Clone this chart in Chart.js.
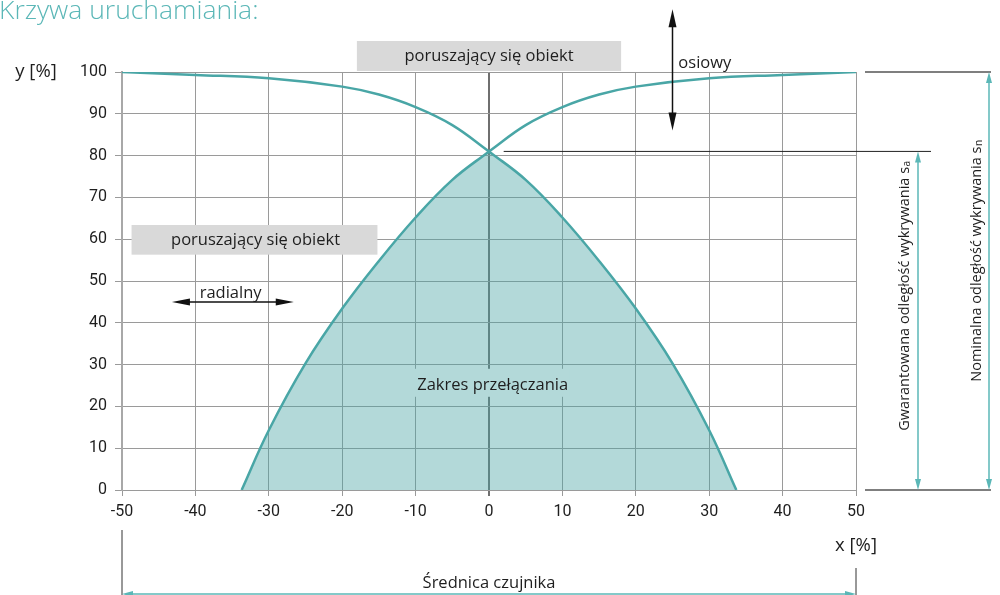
<!DOCTYPE html>
<html>
<head>
<meta charset="utf-8">
<script src="https://cdn.jsdelivr.net/npm/chart.js@4/dist/chart.umd.min.js"></script>
<style>
html, body { margin: 0; padding: 0; background: #fff; }
canvas { display: block; }
</style>
</head>
<body>
<canvas id="curveChart" width="1000" height="595"></canvas>
<script>
// Switching range (lower curve) and approach curves (upper), in % of sensing distance
const lowerLeftX  = [-33.7, -30, -25, -20, -15, -10, -5, 0];
const lowerLeftY  = [0, 14.3, 30.3, 43.4, 54.8, 65.2, 74.2, 81];
const lowerRightX = [0, 5, 10, 15, 20, 25, 30, 33.7];
const lowerRightY = [81, 74.2, 65.2, 54.8, 43.4, 30.3, 14.3, 0];
const upperLeftX  = [-50, -40, -30, -20, -15, -10, -5, 0];
const upperLeftY  = [100, 99.3, 98.5, 96.5, 94.6, 91.6, 87.3, 81];
const upperRightX = [0, 5, 10, 15, 20, 30, 40, 50];
const upperRightY = [81, 87.3, 91.6, 94.6, 96.5, 98.5, 99.3, 100];

const xTicks = [-50, -40, -30, -20, -10, 0, 10, 20, 30, 40, 50];
const yTicks = [0, 10, 20, 30, 40, 50, 60, 70, 80, 90, 100];

const TEAL = '#49a6a6';
const TEAL_LIGHT = '#5bb7b7';
const FILL = 'rgba(74,165,165,0.42)';
const TEXT = '#1e1e1e';
const FONT = '"Open Sans", "Noto Sans", sans-serif';
const TICK_FONT = '"Liberation Sans Narrow", "Roboto", sans-serif';

function pts(xs, ys) {
    return xs.map((x, i) => ({ x: x, y: ys[i] }));
}

function curve(xs, ys, filled) {
    return {
        data: pts(xs, ys),
        borderColor: TEAL,
        borderWidth: 2.5,
        backgroundColor: FILL,
        fill: filled ? 'origin' : false,
        pointRadius: 0,
        tension: 0.4
    };
}

function arrowHead(ctx, x, y, dx, dy, len, half) {
    const bx = x - dx * len, by = y - dy * len;
    ctx.beginPath();
    ctx.moveTo(x, y);
    ctx.lineTo(bx - dy * half, by + dx * half);
    ctx.lineTo(bx + dy * half, by - dx * half);
    ctx.closePath();
    ctx.fill();
}

function doubleArrow(ctx, x1, y1, x2, y2, color, width, len, half) {
    const d = Math.hypot(x2 - x1, y2 - y1);
    const dx = (x2 - x1) / d, dy = (y2 - y1) / d;
    ctx.save();
    ctx.strokeStyle = color;
    ctx.fillStyle = color;
    ctx.lineWidth = width;
    ctx.beginPath();
    ctx.moveTo(x1 + dx * len * 0.5, y1 + dy * len * 0.5);
    ctx.lineTo(x2 - dx * len * 0.5, y2 - dy * len * 0.5);
    ctx.stroke();
    arrowHead(ctx, x2, y2, dx, dy, len, half);
    arrowHead(ctx, x1, y1, -dx, -dy, len, half);
    ctx.restore();
}

function line(ctx, x1, y1, x2, y2, color, width) {
    ctx.save();
    ctx.strokeStyle = color;
    ctx.lineWidth = width;
    ctx.beginPath();
    ctx.moveTo(x1, y1);
    ctx.lineTo(x2, y2);
    ctx.stroke();
    ctx.restore();
}

function label(ctx, text, x, y, size, align) {
    ctx.save();
    ctx.fillStyle = TEXT;
    ctx.font = size + 'px ' + FONT;
    ctx.textAlign = align || 'center';
    ctx.textBaseline = 'middle';
    ctx.fillText(text, x, y);
    ctx.restore();
}

// rotated label with a subscript letter at the end
function verticalLabel(ctx, text, sub, x, y, size) {
    const subSize = size * 0.7;
    ctx.save();
    ctx.translate(x, y);
    ctx.rotate(-Math.PI / 2);
    ctx.fillStyle = TEXT;
    ctx.textBaseline = 'middle';
    ctx.textAlign = 'left';
    ctx.font = size + 'px ' + FONT;
    const w1 = ctx.measureText(text).width;
    ctx.font = subSize + 'px ' + FONT;
    const w2 = ctx.measureText(sub).width;
    const start = -(w1 + w2) / 2;
    ctx.font = size + 'px ' + FONT;
    ctx.fillText(text, start, 0);
    ctx.font = subSize + 'px ' + FONT;
    ctx.fillText(sub, start + w1 + 0.5, size * 0.15);
    ctx.restore();
}

const annotations = {
    id: 'annotations',
    afterDatasetsDraw(chart) {
        const ctx = chart.ctx;
        const xs = chart.scales.x, ys = chart.scales.y;
        const area = chart.chartArea;
        const px = v => xs.getPixelForValue(v);
        const py = v => ys.getPixelForValue(v);

        // heading
        ctx.save();
        ctx.fillStyle = TEAL_LIGHT;
        ctx.font = '300 26.5px ' + FONT;
        ctx.textBaseline = 'alphabetic';
        ctx.fillText('Krzywa uruchamiania:', -1, 19);
        ctx.restore();

        // axis names
        label(ctx, 'y [%]', 36, py(100), 18.5);
        label(ctx, 'x [%]', px(50), 546, 18.5);

        // moving object, axial approach
        ctx.fillStyle = '#d9d9d9';
        ctx.fillRect(px(-18), area.top - 31, px(18) - px(-18), 30);
        label(ctx, 'poruszający się obiekt', px(0), area.top - 16, 16.5);
        doubleArrow(ctx, px(25), py(115), px(25), py(86), '#111', 1.5, 18, 4);
        label(ctx, 'osiowy', px(25.8), py(102.2), 16.5, 'left');

        // moving object, radial approach
        ctx.fillStyle = '#d9d9d9';
        ctx.fillRect(px(-48.7), py(63.4), px(-15.2) - px(-48.7), py(56.3) - py(63.4));
        label(ctx, 'poruszający się obiekt', px(-31.8), py(59.8), 16.5);
        doubleArrow(ctx, px(-43.2), py(45), px(-26.6), py(45), '#111', 1.5, 18, 3.5);
        label(ctx, 'radialny', px(-35.2), py(46.9) - 1, 16.5);

        // switching range caption
        ctx.fillStyle = '#b3d9d9';
        ctx.fillRect(px(-10.3), py(29), px(11) - px(-10.3), py(22.3) - py(29));
        label(ctx, 'Zakres przełączania', px(0.5), py(25.1), 16.5);

        // sensing distance dimensions
        const apexY = py(lowerLeftY[lowerLeftY.length - 1]);
        line(ctx, px(2), apexY, area.right + 75, apexY, '#222', 1);
        line(ctx, area.right + 9, py(100), area.right + 135, py(100), '#555', 1.3);
        line(ctx, area.right + 9, py(0), area.right + 135, py(0), '#555', 1.3);
        doubleArrow(ctx, area.right + 62, apexY, area.right + 62, py(0), TEAL_LIGHT, 1.5, 11, 3);
        doubleArrow(ctx, area.right + 133, py(100), area.right + 133, py(0), TEAL_LIGHT, 1.5, 11, 3);
        verticalLabel(ctx, 'Gwarantowana odległość wykrywania s', 'a', area.right + 49, 296, 14.5);
        verticalLabel(ctx, 'Nominalna odległość wykrywania s', 'n', area.right + 121, 261, 14.5);

        // sensor diameter
        line(ctx, area.left, 530, area.left, 595, '#333', 1);
        line(ctx, area.right, 568, area.right, 595, '#333', 1);
        doubleArrow(ctx, area.left, 594, area.right, 594, TEAL_LIGHT, 1.5, 11, 3);
        label(ctx, 'Średnica czujnika', px(0), 583, 16.5);
    }
};

const gridColor = c => (c.tick && c.tick.value === 0 && c.scale.axis === 'x') ? '#6f6f6f' : '#9a9a9a';
const gridWidth = c => (c.tick && c.tick.value === 0 && c.scale.axis === 'x') ? 2 : 1;

new Chart(document.getElementById('curveChart').getContext('2d'), {
    type: 'line',
    data: {
        datasets: [
            curve(lowerLeftX, lowerLeftY, true),
            curve(lowerRightX, lowerRightY, true),
            curve(upperLeftX, upperLeftY, false),
            curve(upperRightX, upperRightY, false)
        ]
    },
    options: {
        responsive: false,
        animation: false,
        layout: { padding: { left: 0, top: 72, right: 144, bottom: 0 } },
        plugins: { legend: { display: false }, tooltip: { enabled: false } },
        scales: {
            x: {
                type: 'linear',
                min: -50,
                max: 50,
                afterBuildTicks: s => { s.ticks = xTicks.map(v => ({ value: v })); },
                afterFit: s => { s.height = 105; },
                ticks: { color: TEXT, font: { family: TICK_FONT, size: 16 }, padding: 6 },
                grid: { color: gridColor, lineWidth: gridWidth, tickLength: 6 },
                border: { color: '#9a9a9a' }
            },
            y: {
                min: 0,
                max: 100,
                afterBuildTicks: s => { s.ticks = yTicks.map(v => ({ value: v })); },
                afterFit: s => { s.width = 122; },
                ticks: { color: TEXT, font: { family: TICK_FONT, size: 16 }, padding: 8 },
                grid: { color: gridColor, lineWidth: gridWidth, tickLength: 7 },
                border: { color: '#a8a8a8', width: 2 }
            }
        }
    },
    plugins: [annotations]
});
</script>
</body>
</html>
